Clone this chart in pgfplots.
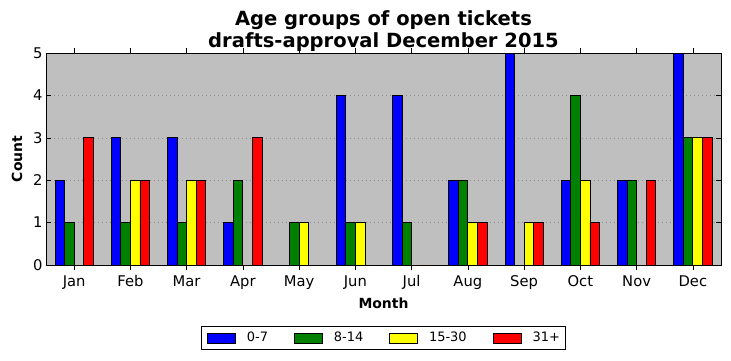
\documentclass[border=0pt]{standalone}
\usepackage{pgfplots}
\pgfplotsset{compat=1.18}
\usepackage{fontspec}
\setmainfont{DejaVu Sans}
\definecolor{bgray}{RGB}{191,191,191}
\definecolor{mgreen}{RGB}{0,128,0}
\definecolor{mblue}{RGB}{0,0,255}
\definecolor{myellow}{RGB}{255,255,0}
\definecolor{mred}{RGB}{255,0,0}
\begin{document}
\begin{tikzpicture}
\begin{axis}[name=ax, scale only axis, width=675bp, height=212bp,
  xmin=-0.5, xmax=11.5, ymin=0, ymax=5,
  ybar, bar width=0.17,
  xtick={0,...,11},
  xticklabels={Jan,Feb,Mar,Apr,May,Jun,Jul,Aug,Sep,Oct,Nov,Dec},
  ytick={0,...,5},
  /pgf/number format/assume math mode=true,
  tick label style={font=\fontsize{14.8}{17}\selectfont},
  xticklabel style={anchor=base, yshift=-16bp},
  major tick length=5bp,
  tick style={black, line width=0.6bp},
  axis line style={black, line width=0.9bp},
  axis background/.style={fill=bgray},
  ymajorgrids, grid style={dash pattern=on 1bp off 3bp, line width=0.6bp, black!45},
  title={Age groups of open tickets\\drafts-approval December 2015},
  title style={font=\bfseries\fontsize{19.6}{21.5}\selectfont, align=center,
    at={(axis description cs:0.5,1)}, anchor=south, inner sep=0pt, yshift=-4.5bp},
  xlabel={Month},
  xlabel style={font=\bfseries\fontsize{14}{16}\selectfont,
    at={(axis description cs:0.5,0)}, anchor=base, yshift=-43bp},
  ylabel={Count},
  ylabel style={font=\bfseries\fontsize{14}{16}\selectfont,
    at={(axis description cs:-0.043,0.5)}, anchor=center},
  legend columns=4,
  legend image code/.code={\draw[#1, line width=0.8bp] (0bp,-5bp) rectangle (28bp,5bp);},
  legend style={at={(axis description cs:0.5,-0.344)}, anchor=center,
    draw=black, line width=0.8bp, fill=white, font=\fontsize{13}{15}\selectfont,
    inner xsep=6bp, inner ysep=6bp, nodes={inner sep=0pt},
    /tikz/every odd column/.append style={column sep=11bp},
    /tikz/every even column/.append style={column sep=26bp}},
]
\addplot[fill=mblue, draw=black, line width=0.8bp, bar shift=-0.255] coordinates {
(0,2) (1,3) (2,3) (3,1) (4,0) (5,4) (6,4) (7,2) (8,5) (9,2) (10,2) (11,5)};
\addlegendentry{0-7}
\addplot[fill=mgreen, draw=black, line width=0.8bp, bar shift=-0.085] coordinates {
(0,1) (1,1) (2,1) (3,2) (4,1) (5,1) (6,1) (7,2) (8,0) (9,4) (10,2) (11,3)};
\addlegendentry{8-14}
\addplot[fill=myellow, draw=black, line width=0.8bp, bar shift=0.085] coordinates {
(0,0) (1,2) (2,2) (3,0) (4,1) (5,1) (6,0) (7,1) (8,1) (9,2) (10,0) (11,3)};
\addlegendentry{15-30}
\addplot[fill=mred, draw=black, line width=0.8bp, bar shift=0.255] coordinates {
(0,3) (1,2) (2,2) (3,3) (4,0) (5,0) (6,0) (7,1) (8,1) (9,1) (10,2) (11,3)};
\addlegendentry{31+}
\end{axis}
\pgfresetboundingbox
\path[use as bounding box] ([shift={(-46bp,-96bp)}]ax.south west) rectangle ([shift={(10bp,53bp)}]ax.north east);
\end{tikzpicture}
\end{document}
